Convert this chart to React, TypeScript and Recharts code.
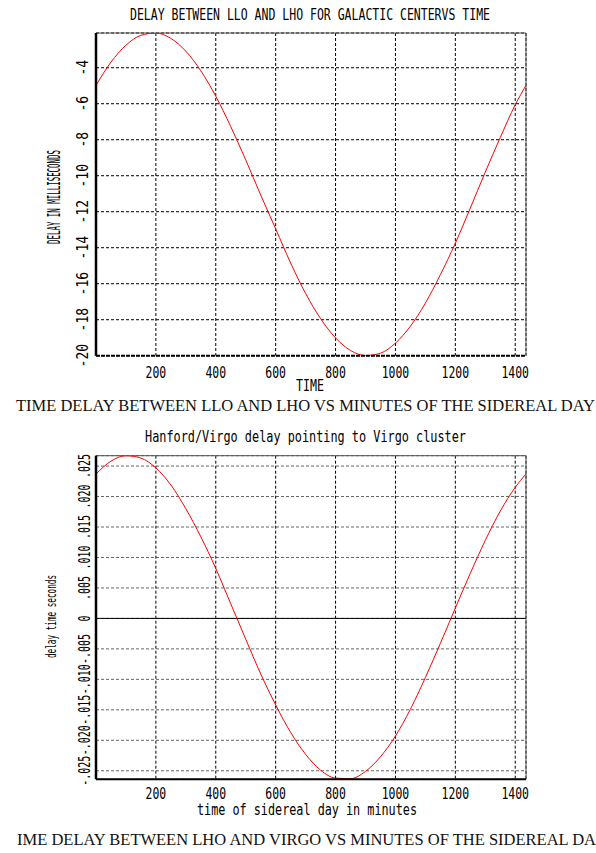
import React from "react";
import { LineChart, Line, XAxis, YAxis, CartesianGrid, ReferenceLine } from "recharts";

// minutes of the sidereal day, shared by both panels
const minutes = [0, 50, 100, 150, 200, 250, 300, 350, 400, 450, 500, 550, 600, 650, 700, 750, 800, 850, 900, 950, 1000, 1050, 1100, 1150, 1200, 1250, 1300, 1350, 1400, 1436];

// LLO - LHO delay, milliseconds (galactic center)
const delayLloLho = [-4.98, -3.69, -2.75, -2.2, -2.07, -2.37, -3.08, -4.17, -5.58, -7.27, -9.12, -11.07, -12.95, -14.85, -16.54, -17.94, -19.01, -19.71, -19.99, -19.86, -19.3, -18.36, -17.08, -15.5, -13.75, -11.8, -9.8, -7.88, -6.06, -4.98];

// Hanford - Virgo delay, seconds (Virgo cluster)
const delayLhoVirgo = [0.0237, 0.0258, 0.0267, 0.0263, 0.0247, 0.0219, 0.018, 0.0134, 0.0082, 0.0024, -0.0034, -0.0091, -0.0142, -0.0187, -0.0223, -0.0249, -0.0262, -0.0263, -0.0251, -0.0227, -0.0193, -0.0149, -0.0097, -0.0041, 0.0017, 0.0074, 0.0128, 0.0176, 0.0215, 0.0237];

const xTicks = [200, 400, 600, 800, 1000, 1200, 1400];
const yTicks1 = [-20, -18, -16, -14, -12, -10, -8, -6, -4];
const yTicks2 = [-0.025, -0.02, -0.015, -0.01, -0.005, 0, 0.005, 0.01, 0.015, 0.02, 0.025];

const X_MAX = 1436;
const Y1_DOMAIN: [number, number] = [-20, -2.07];
const Y2_DOMAIN: [number, number] = [-0.0264, 0.0267];

const data1 = minutes.map((m, i) => ({ m, v: delayLloLho[i] }));
const data2 = minutes.map((m, i) => ({ m, v: delayLhoVirgo[i] }));

const MONO = "'DejaVu Sans Mono', monospace";

const fmtSmall = (v: number) => {
  if (Math.abs(v) < 1e-9) return "0";
  return (v < 0 ? "-" : "") + Math.abs(v).toFixed(3).slice(1);
};

const XTick = (props: any) => {
  const { x, y, payload, dy } = props;
  const s = String(payload.value);
  return (
    <text x={x} y={y + dy} textAnchor="middle" fontFamily={MONO} fontSize={15} fill="#000"
      textLength={s.length * 6.9} lengthAdjust="spacingAndGlyphs">
      {s}
    </text>
  );
};

const YTick = (props: any) => {
  const { x, y, payload, dx, fmt, per } = props;
  const s = fmt(payload.value);
  const bx = x - dx;
  return (
    <text x={bx} y={y} transform={`rotate(-90, ${bx}, ${y})`} textAnchor="middle" fontFamily={MONO}
      fontSize={15} fill="#000" textLength={s.length * per} lengthAdjust="spacingAndGlyphs">
      {s}
    </text>
  );
};

export default function App() {
  return (
    <div style={{ position: "absolute", left: 0, top: 0, width: 596, height: 853, background: "#fff", overflow: "hidden" }}>
      <div style={{ position: "absolute", left: 0, top: 0 }}>
        <LineChart width={596} height={420} data={data1} margin={{ top: 33, right: 70, left: 76, bottom: 34.3 }}>
          <CartesianGrid stroke="#000" strokeDasharray="3 2" />
          <XAxis dataKey="m" type="number" domain={[0, X_MAX]} ticks={xTicks} allowDataOverflow height={30}
            tickSize={0} tickMargin={0} tickLine={false}
            axisLine={{ stroke: "#000", strokeWidth: 2, strokeDasharray: "4 1" }}
            tick={(p: any) => <XTick {...p} dy={22.6} />} />
          <YAxis type="number" domain={Y1_DOMAIN} ticks={yTicks1} allowDataOverflow width={20}
            tickSize={0} tickMargin={0} tickLine={false}
            axisLine={{ stroke: "#000", strokeWidth: 2.5 }}
            tick={(p: any) => <YTick {...p} dx={7.7} per={7.8} fmt={(v: number) => String(v)} />} />
          <ReferenceLine y={Y1_DOMAIN[1]} stroke="#555" />
          <ReferenceLine x={X_MAX} stroke="#555" />
          <Line type="monotone" dataKey="v" stroke="#ff0000" strokeWidth={1} dot={false} isAnimationActive={false} />
        </LineChart>
      </div>
      <div style={{ position: "absolute", left: 0, top: 420 }}>
        <LineChart width={596} height={433} data={data2} margin={{ top: 35.7, right: 70, left: 76, bottom: 43.7 }}>
          <CartesianGrid stroke="#666" strokeDasharray="3 2" vertical={false} />
          <CartesianGrid stroke="#000" strokeDasharray="3 2" horizontal={false} />
          <XAxis dataKey="m" type="number" domain={[0, X_MAX]} ticks={xTicks} allowDataOverflow height={30}
            tickSize={0} tickMargin={0} tickLine={false}
            axisLine={{ stroke: "#000", strokeWidth: 2 }}
            tick={(p: any) => <XTick {...p} dy={20} />} />
          <YAxis type="number" domain={Y2_DOMAIN} ticks={yTicks2} allowDataOverflow width={20}
            tickSize={0} tickMargin={0} tickLine={false}
            axisLine={{ stroke: "#000", strokeWidth: 2.5 }}
            tick={(p: any) => <YTick {...p} dx={6} per={6} fmt={fmtSmall} />} />
          <ReferenceLine y={0} stroke="#000" />
          <ReferenceLine y={Y2_DOMAIN[1]} stroke="#555" />
          <ReferenceLine x={X_MAX} stroke="#555" />
          <Line type="monotone" dataKey="v" stroke="#ff0000" strokeWidth={1} dot={false} isAnimationActive={false} />
        </LineChart>
      </div>
      <svg width={596} height={853} style={{ position: "absolute", left: 0, top: 0, pointerEvents: "none" }}>
        <g fontFamily={MONO} fill="#000">
          <text x={310} y={20} textAnchor="middle" fontSize={16} textLength={360} lengthAdjust="spacingAndGlyphs">
            DELAY BETWEEN LLO AND LHO FOR GALACTIC CENTERVS TIME
          </text>
          <text x={60} y={197} transform="rotate(-90, 60, 197)" textAnchor="middle" fontSize={17}
            textLength={94} lengthAdjust="spacingAndGlyphs">
            DELAY IN MILLISECONDS
          </text>
          <text x={296} y={391} fontSize={16} textLength={28} lengthAdjust="spacingAndGlyphs">TIME</text>
          <text x={305.5} y={441.7} textAnchor="middle" fontSize={16} textLength={321} lengthAdjust="spacingAndGlyphs">
            Hanford/Virgo delay pointing to Virgo cluster
          </text>
          <text x={56} y={616.5} transform="rotate(-90, 56, 616.5)" textAnchor="middle" fontSize={14}
            textLength={83} lengthAdjust="spacingAndGlyphs">
            delay time seconds
          </text>
          <text x={307} y={815} textAnchor="middle" fontSize={15} textLength={220} lengthAdjust="spacingAndGlyphs">
            time of sidereal day in minutes
          </text>
        </g>
        <g fontFamily="'Liberation Serif', 'Times New Roman', serif" fill="#111" fontSize={16}>
          <text x={16} y={410.5} textLength={579} lengthAdjust="spacingAndGlyphs">
            TIME DELAY BETWEEN LLO AND LHO VS MINUTES OF THE SIDEREAL DAY
          </text>
          <text x={17} y={845} textLength={579} lengthAdjust="spacingAndGlyphs">
            IME DELAY BETWEEN LHO AND VIRGO VS MINUTES OF THE SIDEREAL DA
          </text>
        </g>
      </svg>
    </div>
  );
}
